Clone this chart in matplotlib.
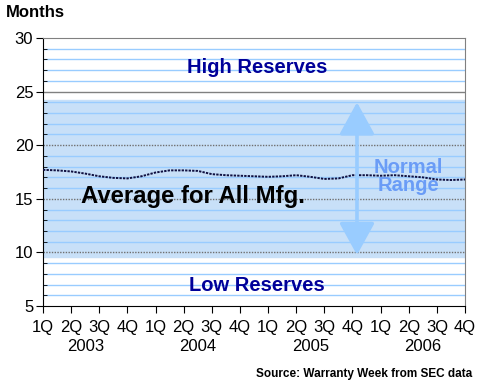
import numpy as np
import matplotlib
matplotlib.use("Agg")
import matplotlib.pyplot as plt

plt.rcParams['font.family'] = ['Liberation Sans', 'DejaVu Sans']

# quarter positions (0 = 1Q 2003 ... 15 = 4Q 2006), half-quarter steps
pos = [0, 0.5, 1, 1.5, 2, 2.5, 3, 3.5, 4, 4.5, 5, 5.5, 6, 6.5, 7, 7.5,
       8, 8.5, 9, 9.5, 10, 10.5, 11, 11.5, 12, 12.5, 13, 13.5, 14, 14.5, 15]
avg_months = [17.7, 17.65, 17.55, 17.35, 17.1, 16.95, 16.9, 17.1, 17.45, 17.65,
              17.65, 17.6, 17.3, 17.2, 17.15, 17.1, 17.05, 17.1, 17.2, 17.05,
              16.85, 16.9, 17.2, 17.2, 17.15, 17.2, 17.1, 17.0, 16.8, 16.75, 16.8]

quarters = ['1Q', '2Q', '3Q', '4Q'] * 4
years = ['2003', '2004', '2005', '2006']
normal_low = 9.6
normal_high = 24.2

fig = plt.figure(figsize=(4.8, 3.86), dpi=100)
ax = fig.add_axes([0.0896, 0.2073, 0.8792, 0.6943])

ax.set_xlim(0, 15)
ax.set_ylim(5, 30)

# normal range band
ax.axhspan(normal_low, normal_high, color='#c8e0f8', zorder=0)

# grid lines
for v in range(6, 30):
    if v % 5 == 0:
        continue
    ax.axhline(v, color='#99ccff', lw=1, zorder=1)
ax.axhline(25, color='#808080', lw=1, zorder=1)
for v in [10, 15, 20]:
    ax.axhline(v, color='#707070', lw=1, ls=(0, (1, 1)), zorder=1)

ax.plot(pos, avg_months, color='#101040', lw=1.4, ls=(0, (1.2, 0.6)), zorder=3)

# double arrow for normal range
ax.annotate('', xy=(11.16, 9.75), xytext=(11.16, 24.0),
            arrowprops=dict(arrowstyle='<|-|>,head_length=1.0,head_width=0.55',
                            mutation_scale=20, color='#99ccff', lw=2.6,
                            shrinkA=0, shrinkB=0),
            zorder=4)

ax.text(7.6, 27.2, 'High Reserves', color='#000099', fontsize=14.5,
        fontweight='bold', ha='center', va='center')
ax.text(7.6, 6.95, 'Low Reserves', color='#000099', fontsize=14.5,
        fontweight='bold', ha='center', va='center')
ax.text(5.33, 15.2, 'Average for All Mfg.', color='black', fontsize=17.2,
        fontweight='bold', ha='center', va='center')
ax.text(13.0, 17.1, 'Normal\nRange', color='#6a9cf6', fontsize=14.5,
        fontweight='bold', ha='center', va='center', linespacing=0.95)

# axes styling
ax.spines['top'].set_color('#808080')
ax.spines['right'].set_color('#808080')
ax.set_yticks(range(5, 31, 5))
ax.set_yticks(range(5, 31), minor=True)
ax.tick_params(axis='y', which='major', direction='out', length=5, labelsize=12, pad=2)
ax.tick_params(axis='y', which='minor', direction='in', length=3)
ax.set_xticks(range(16))
ax.set_xticklabels(quarters)
ax.tick_params(axis='x', which='major', direction='out', length=5, labelsize=12, pad=5)

for i, yr in enumerate(years):
    ax.text(i * 4 + 1.5, -0.15, yr, transform=ax.get_xaxis_transform(),
            fontsize=12, ha='center', va='center')

fig.text(0.012, 0.968, 'Months', fontsize=12, fontweight='bold', ha='left', va='center')
fig.text(0.983, 0.03, 'Source: Warranty Week from SEC data', fontsize=8.5,
         fontweight='bold', ha='right', va='center')

fig.savefig('out.png', dpi=100)
